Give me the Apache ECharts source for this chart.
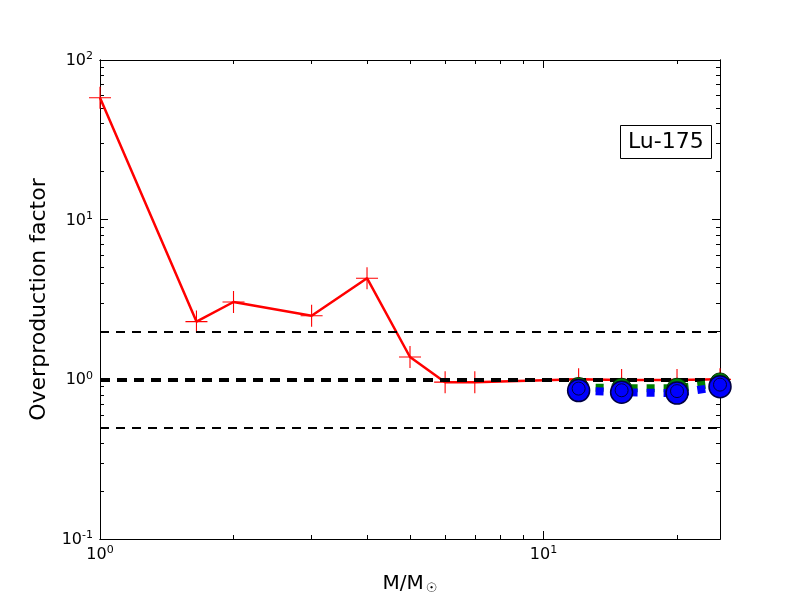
<!DOCTYPE html>
<html>
<head>
<meta charset="utf-8">
<script src="https://cdn.jsdelivr.net/npm/echarts@6/dist/echarts.min.js"></script>
<style>html,body{margin:0;padding:0;background:#fff}#c{width:800px;height:600px}</style>
</head>
<body>
<div id="c"></div>
<script>
// ---- data ----
const masses = [1, 1.65, 2, 3, 4, 5, 6, 7, 12, 15, 20, 25];
const redValues = [58, 2.3, 3.05, 2.5, 4.3, 1.38, 0.96, 0.96, 1.0, 0.99, 0.99, 1.0];
const massesHigh = [12, 15, 20, 25];
const greenValues = [0.89, 0.88, 0.88, 0.95];
const blueValues = [0.85, 0.83, 0.82, 0.90];
const refLinesThin = [0.5, 2];
const refLineThick = [1];
const xMajorTicks = [1, 10];
const xMinorTicks = [2, 3, 4, 5, 6, 7, 8, 9, 20];
const yMajorTicks = [0.1, 1, 10, 100];
const yMinorTicks = [0.2,0.3,0.4,0.5,0.6,0.7,0.8,0.9,2,3,4,5,6,7,8,9,20,30,40,50,60,70,80,90];
const labelText = 'Lu-175';
const xTitle = 'M/M';
const yTitle = 'Overproduction factor';

const FONT = 'DejaVu Sans';
const pairs = (xs, ys) => xs.map((x, i) => [x, ys[i]]);
const expLabel = v => '{b|10}{s|' + Math.round(Math.log10(v)) + '}';
const rich = {
  b: {fontFamily: FONT, fontSize: 16, color: '#000', lineHeight: 18, verticalAlign: 'bottom'},
  s: {fontFamily: FONT, fontSize: 11, color: '#000', lineHeight: 18, verticalAlign: 'top', padding: [0, 0, 6, 0]}
};

function xAx(pos, major, showLabel) {
  return {
    type: 'log', logBase: 10, min: 1, max: 25, position: pos,
    axisLine: {show: true, onZero: false, lineStyle: {color: '#000', width: 1}},
    axisTick: {show: true, inside: true, length: major ? 8 : 4, lineStyle: {color: '#000'},
               customValues: major ? xMajorTicks : xMinorTicks},
    axisLabel: {show: showLabel, customValues: xMajorTicks, formatter: expLabel, rich: rich, margin: 6},
    splitLine: {show: false}, minorTick: {show: false},
    name: showLabel ? (xTitle + '{sub|☉}') : '',
    nameLocation: 'middle', nameGap: 33,
    nameTextStyle: {fontFamily: FONT, fontSize: 20, color: '#000',
      rich: {sub: {fontFamily: FONT, fontSize: 13, color: '#000', padding: [10, 0, 0, 2]}}}
  };
}
function yAx(pos, major, showLabel) {
  return {
    type: 'log', logBase: 10, min: 0.1, max: 100, position: pos,
    axisLine: {show: true, onZero: false, lineStyle: {color: '#000', width: 1}},
    axisTick: {show: true, inside: true, length: major ? 8 : 4, lineStyle: {color: '#000'},
               customValues: major ? yMajorTicks : yMinorTicks},
    axisLabel: {show: showLabel, customValues: yMajorTicks, formatter: expLabel, rich: rich, margin: 7},
    splitLine: {show: false}, minorTick: {show: false},
    name: showLabel ? yTitle : '',
    nameLocation: 'middle', nameGap: 47,
    nameTextStyle: {fontFamily: FONT, fontSize: 22, color: '#000'}
  };
}

const chart = echarts.init(document.getElementById('c'), null, {renderer: 'canvas'});
// plus sign drawn as two thin filled bars
const crossPath = 'path://M11.4,0H12.6V24H11.4Z M0,11.4H24V12.6H0Z';
chart.setOption({
  animation: false,
  backgroundColor: '#fff',
  grid: {left: 100, right: 80, top: 60, bottom: 60, containLabel: false},
  xAxis: [xAx('bottom', true, true), xAx('bottom', false, false), xAx('top', true, false), xAx('top', false, false)],
  yAxis: [yAx('left', true, true), yAx('left', false, false), yAx('right', true, false), yAx('right', false, false)],
  title: {
    text: labelText, left: 620, top: 125,
    borderColor: '#000', borderWidth: 1, padding: [6, 8, 6, 8],
    backgroundColor: '#fff',
    textStyle: {fontFamily: FONT, fontSize: 22, fontWeight: 'normal', color: '#000'}
  },
  series: [
    {
      type: 'line', name: 'red', data: pairs(masses, redValues), z: 2,
      lineStyle: {color: '#ff0000', width: 2.5},
      showSymbol: false, symbol: 'none',
      clip: true,
      markLine: {
        silent: true, symbol: 'none', label: {show: false}, z: 3,
        data: refLinesThin.map(v => ({yAxis: v, lineStyle: {color: '#000', width: 2, type: [9, 7]}}))
          .concat(refLineThick.map(v => ({yAxis: v, lineStyle: {color: '#000', width: 4, type: [10, 7]}})))
      }
    },
    {
      type: 'scatter', name: 'red-cross', data: pairs(masses, redValues), z: 2,
      symbol: crossPath, symbolSize: 22,
      itemStyle: {color: '#ff0000', borderWidth: 0, opacity: 1},
      clip: true
    },
    {
      type: 'line', name: 'green', data: pairs(massesHigh, greenValues), z: 4,
      lineStyle: {color: '#007f00', width: 8, type: [8, 9], cap: 'butt'},
      symbol: 'circle', symbolSize: 20,
      itemStyle: {color: '#007f00', borderColor: '#003000', borderWidth: 1},
      clip: true
    },
    {
      type: 'line', name: 'blue', data: pairs(massesHigh, blueValues), z: 5,
      lineStyle: {color: '#0000ff', width: 8, type: [8, 9], cap: 'butt'},
      symbol: 'circle', symbolSize: 22,
      itemStyle: {color: '#0000ff', borderColor: '#000040', borderWidth: 1.5},
      clip: true
    },
    {
      type: 'scatter', name: 'blue-ring', data: pairs(massesHigh, blueValues), z: 6,
      symbol: 'circle', symbolSize: 13, symbolOffset: [0, -2],
      itemStyle: {color: 'rgba(0,0,0,0)', borderColor: '#000040', borderWidth: 1, opacity: 1},
      clip: true
    }
  ]
});
</script>
</body>
</html>
